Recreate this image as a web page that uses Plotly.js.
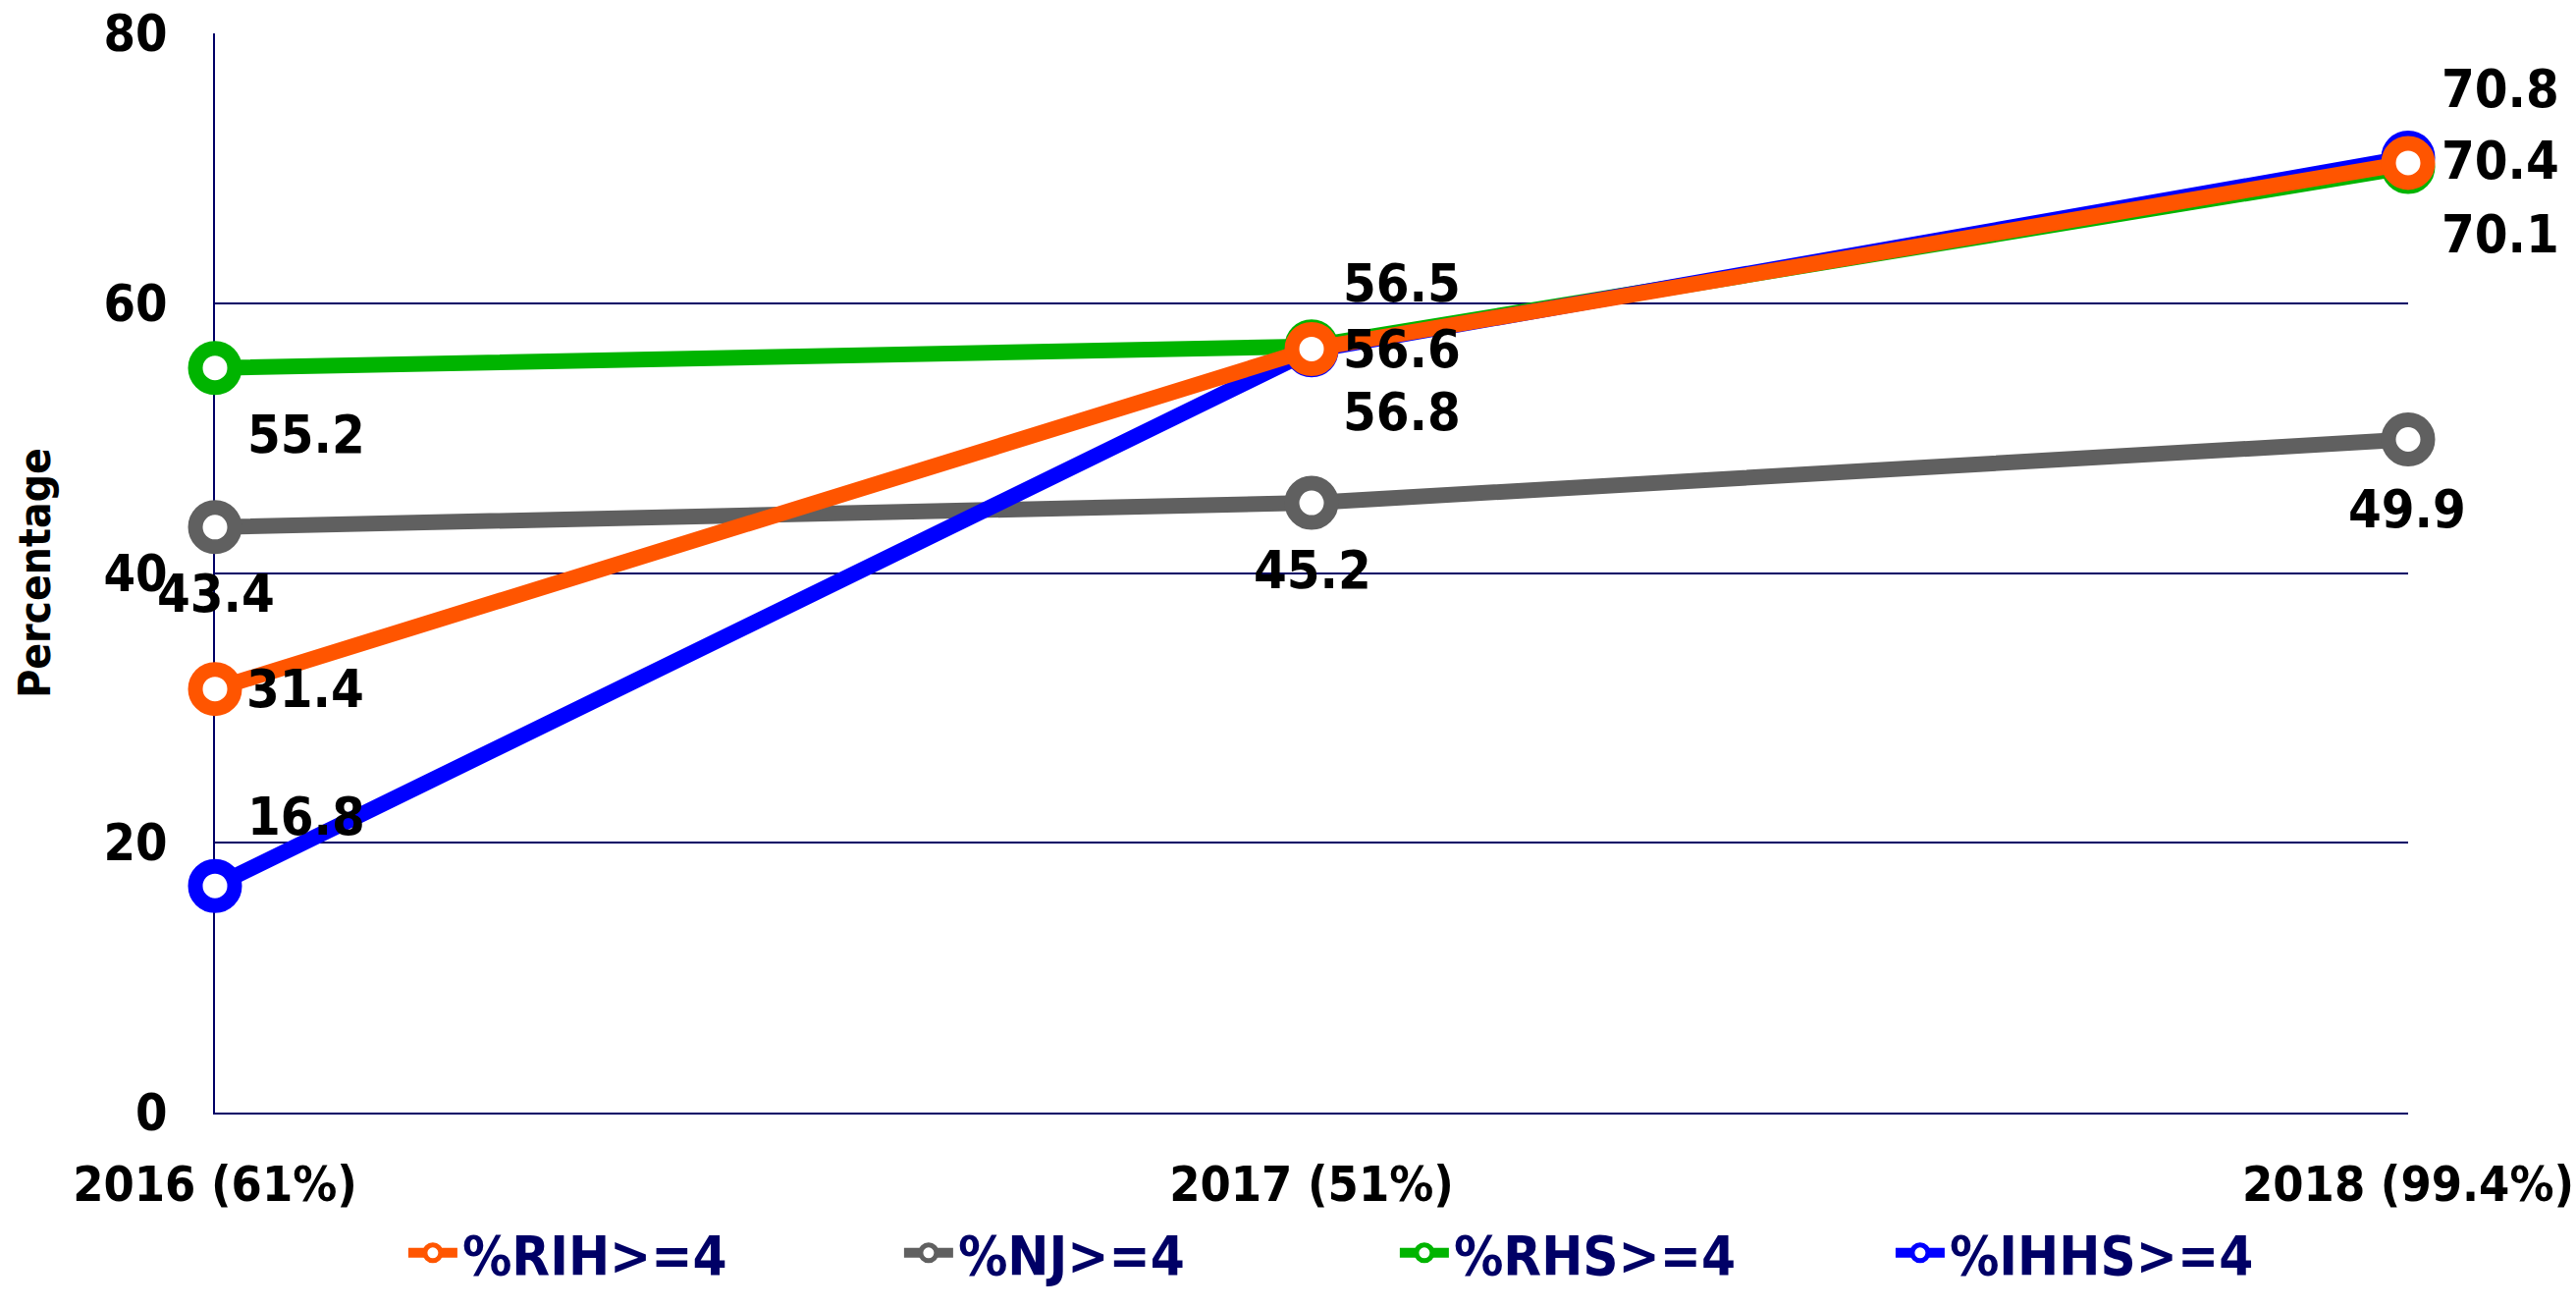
<!DOCTYPE html>
<html>
<head>
<meta charset="utf-8">
<script src="https://cdn.plot.ly/plotly-3.0.1.min.js"></script>
<style>
  html, body { margin: 0; padding: 0; background: #ffffff; }
  #chart { width: 2624px; height: 1331px; }
</style>
</head>
<body>
<div id="chart"></div>
<script>
// ---- data ----
const categories = ["2016 (61%)", "2017 (51%)", "2018 (99.4%)"];
const seriesNames = ["%RIH>=4", "%NJ>=4", "%RHS>=4", "%IHHS>=4"];
const rih  = [31.4, 56.6, 70.4];
const nj   = [43.4, 45.2, 49.9];
const rhs  = [55.2, 56.8, 70.1];
const ihhs = [16.8, 56.5, 70.8];
const yTicks = [0, 20, 40, 60, 80];

// ---- styling (not data) ----
const FONT = "'DejaVu Sans Condensed', 'Liberation Sans Narrow', 'DejaVu Sans', sans-serif";
const NAVY = "#000066";
const colors = { rih: "#FF5500", nj: "#606060", rhs: "#00B400", ihhs: "#0000FF" };
// label pixel offsets [xshift, yshift] per point
const labelShift = {
  rih:  [[92, 0],   [92, 0],   [94, 2]],
  nj:   [[1, -68],  [1, -68],  [-1, -71]],
  rhs:  [[93, -68], [92, -67], [94, -68]],
  ihhs: [[93, 71],  [92, 68],  [94, 70]]
};

function trace(key, name, vals, rank) {
  return {
    type: "scatter",
    mode: "lines+markers",
    name: name,
    x: categories,
    y: vals,
    legendrank: rank,
    cliponaxis: false,
    line: { color: colors[key], width: 16 },
    marker: { symbol: "circle", size: 40, color: "#ffffff",
              line: { color: colors[key], width: 15 } },
    hoverinfo: "x+y+name"
  };
}

// draw order: gray, green, blue, orange (orange on top); legend order via legendrank
const data = [
  trace("nj", seriesNames[1], nj, 2),
  trace("rhs", seriesNames[2], rhs, 3),
  trace("ihhs", seriesNames[3], ihhs, 4),
  trace("rih", seriesNames[0], rih, 1)
];

const annotations = [];
[["rih", rih], ["nj", nj], ["rhs", rhs], ["ihhs", ihhs]].forEach(([key, vals]) => {
  vals.forEach((v, i) => {
    annotations.push({
      xref: "x", yref: "y", x: categories[i], y: v,
      text: v.toFixed(1), showarrow: false,
      xshift: labelShift[key][i][0], yshift: labelShift[key][i][1],
      font: { family: FONT, size: 54, color: "#000000", weight: 700 }
    });
  });
});

const layout = {
  width: 2624, height: 1331,
  paper_bgcolor: "#ffffff", plot_bgcolor: "#ffffff",
  margin: { l: 219, r: 171, t: 34, b: 183, pad: 0 },
  showlegend: true,
  legend: {
    orientation: "h", x: 0.538, xanchor: "center", y: -0.13, yanchor: "middle",
    font: { family: FONT, size: 56, color: NAVY, weight: 700 },
    itemwidth: 50, entrywidth: 440, traceorder: "normal"
  },
  xaxis: {
    type: "category", categoryorder: "array", categoryarray: categories,
    range: [0, 2], showgrid: false, zeroline: false,
    showline: true, linecolor: NAVY, linewidth: 2,
    ticks: "", ticklabelstandoff: 28, layer: "below traces",
    tickfont: { family: FONT, size: 50, color: "#000000", weight: 700 },
    fixedrange: true
  },
  yaxis: {
    range: [0, 80], tickvals: yTicks, ticktext: yTicks.map(String),
    showgrid: true, gridcolor: NAVY, gridwidth: 2,
    zeroline: false, showline: true, linecolor: NAVY, linewidth: 2,
    ticks: "", ticklabelstandoff: 36, layer: "below traces",
    tickfont: { family: FONT, size: 52, color: "#000000", weight: 700 },
    title: { text: "Percentage", standoff: 40,
             font: { family: FONT, size: 44, color: "#000000", weight: 700 } },
    fixedrange: true
  },
  annotations: annotations
};

Plotly.newPlot("chart", data, layout, { displayModeBar: false, staticPlot: true });
</script>
</body>
</html>
